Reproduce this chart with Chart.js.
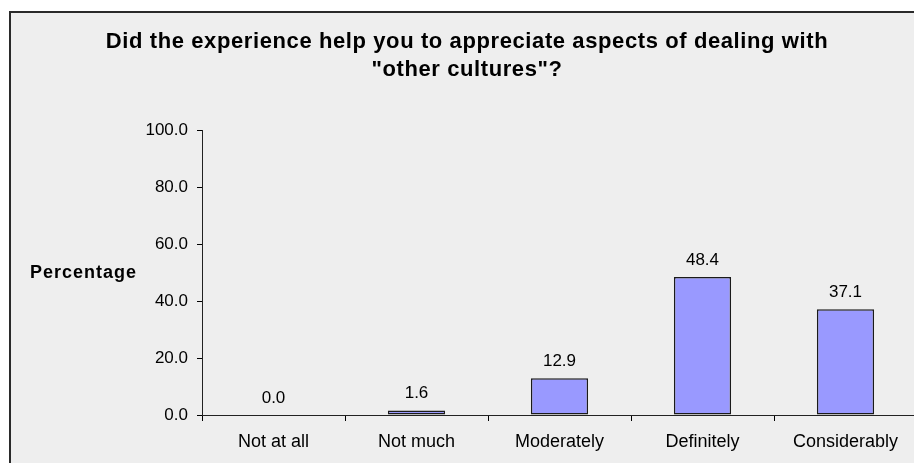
<!DOCTYPE html>
<html>
<head>
<meta charset="utf-8">
<script src="https://cdn.jsdelivr.net/npm/chart.js@4"></script>
<style>
  html, body { margin: 0; padding: 0; background: #fff; overflow: hidden; }
  canvas { display: block; }
</style>
</head>
<body>
<canvas id="bar_cultures" width="917" height="463"></canvas>
<script>
const categories = ["Not at all", "Not much", "Moderately", "Definitely", "Considerably"];
const percentages = [0.0, 1.6, 12.9, 48.4, 37.1];
const yTicks = [0, 20, 40, 60, 80, 100];
const titleLines = ["Did the experience help you to appreciate aspects of dealing with", "\"other cultures\"?"];
const yAxisLabel = "Percentage";

const FONT = "'Liberation Sans', Arial, sans-serif";

// grey panel with the dark frame, title, axis label and value labels
const panelPlugin = {
    id: "panel",
    beforeDraw(chart) {
        const ctx = chart.ctx;
        ctx.save();
        ctx.fillStyle = "#eeeeee";
        ctx.fillRect(10, 12, chart.width, chart.height);
        ctx.strokeStyle = "#2a2a2a";
        ctx.lineWidth = 2;
        ctx.strokeRect(10, 12, chart.width + 10, chart.height + 10);

        ctx.fillStyle = "#000";
        ctx.textAlign = "center";
        ctx.textBaseline = "alphabetic";
        ctx.font = "bold 22px " + FONT;
        ctx.letterSpacing = "0.6px";
        ctx.fillText(titleLines[0], 467, 48);
        ctx.fillText(titleLines[1], 467, 76);

        ctx.textAlign = "left";
        ctx.textBaseline = "middle";
        ctx.font = "bold 18px " + FONT;
        ctx.letterSpacing = "1px";
        ctx.fillText(yAxisLabel, 30, 273);
        ctx.restore();
    },
    afterDatasetsDraw(chart) {
        const ctx = chart.ctx;
        const meta = chart.getDatasetMeta(0);
        ctx.save();
        ctx.fillStyle = "#000";
        ctx.font = "17px " + FONT;
        ctx.textAlign = "center";
        ctx.textBaseline = "alphabetic";
        meta.data.forEach((bar, i) => {
            ctx.fillText(percentages[i].toFixed(1), bar.x, bar.y - 12);
        });
        ctx.restore();
    }
};

const config_Cultures = {
    type: "bar",
    data: {
        labels: categories,
        datasets: [
            {
                label: "Percentage",
                data: percentages,
                backgroundColor: "#9999ff",
                borderColor: "#1a1a1a",
                borderWidth: 1.5,
                borderSkipped: false,
                barPercentage: 0.4,
                categoryPercentage: 1.0
            }
        ]
    },
    options: {
        responsive: false,
        animation: false,
        layout: {
            padding: { left: 0, right: 0, top: 130, bottom: 0 }
        },
        plugins: {
            legend: { display: false },
            title: { display: false },
            tooltip: { enabled: false }
        },
        scales: {
            x: {
                afterFit(scale) { scale.height = 48; },
                grid: {
                    display: true,
                    drawOnChartArea: false,
                    drawTicks: true,
                    tickLength: 6,
                    color: "#000"
                },
                border: { display: true, color: "#222", width: 1 },
                ticks: {
                    color: "#000",
                    padding: 10,
                    font: { family: FONT, size: 18 }
                }
            },
            y: {
                min: 0,
                max: 100,
                afterFit(scale) { scale.width = 202; },
                afterBuildTicks(scale) {
                    scale.ticks = yTicks.map(v => ({ value: v }));
                },
                grid: {
                    display: true,
                    drawOnChartArea: false,
                    drawTicks: true,
                    tickLength: 5,
                    color: "#000"
                },
                border: { display: true, color: "#222", width: 1 },
                ticks: {
                    color: "#000",
                    padding: 9,
                    font: { family: FONT, size: 17 },
                    callback: v => Number(v).toFixed(1)
                }
            }
        }
    },
    plugins: [panelPlugin]
};

const ctx_Cultures = document.getElementById("bar_cultures").getContext("2d");

const myChart_Cultures = new Chart(ctx_Cultures, config_Cultures);
</script>
</body>
</html>
